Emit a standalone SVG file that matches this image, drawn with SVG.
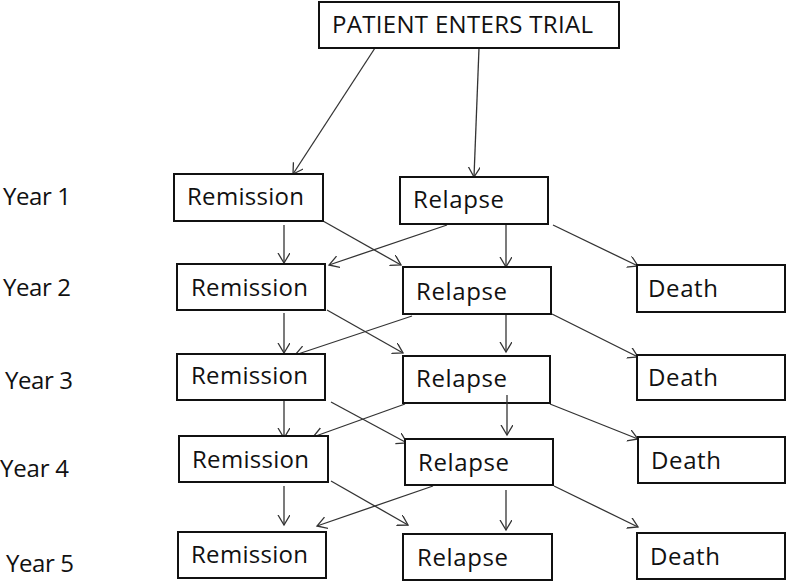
<svg xmlns="http://www.w3.org/2000/svg" width="787" height="582" viewBox="0 0 787 582">
<style>
.box{fill:#fff;stroke:#111;stroke-width:2}
.t{font-family:"Open Sans","Liberation Sans",sans-serif;font-size:24px;fill:#111}
.c line{stroke:#333;stroke-width:1.3;marker-end:url(#ah)}
</style>
<defs>
<marker id="ah" markerUnits="userSpaceOnUse" markerWidth="12" markerHeight="14" refX="10" refY="6" orient="auto">
<path d="M0,0 L10,6 L0,12" fill="none" stroke="#333" stroke-width="1.3"/>
</marker>
</defs>
<rect width="787" height="582" fill="#fff"/>
<g id="years">
<text class="t" x="3" y="205" textLength="68">Year 1</text>
<text class="t" x="3" y="296" textLength="68">Year 2</text>
<text class="t" x="5" y="389" textLength="68">Year 3</text>
<text class="t" x="0" y="477" textLength="69">Year 4</text>
<text class="t" x="6" y="572" textLength="68">Year 5</text>
</g>
<g class="c" id="connectors">
<line x1="375" y1="48" x2="293" y2="174"/>
<line x1="479" y1="48" x2="474" y2="177"/>
<line x1="284" y1="225" x2="284" y2="263"/>
<line x1="323" y1="221" x2="401" y2="265"/>
<line x1="447" y1="225" x2="329" y2="265"/>
<line x1="506" y1="224" x2="506" y2="267"/>
<line x1="553" y1="225" x2="638" y2="266"/>
<line x1="284" y1="313" x2="284" y2="353"/>
<line x1="327" y1="310" x2="403" y2="353"/>
<line x1="412" y1="316" x2="295" y2="355"/>
<line x1="506" y1="314" x2="506" y2="352"/>
<line x1="552" y1="314" x2="638" y2="357"/>
<line x1="284" y1="400" x2="284" y2="438"/>
<line x1="331" y1="402" x2="407" y2="443"/>
<line x1="405" y1="404" x2="313" y2="437"/>
<line x1="550" y1="404" x2="638" y2="439"/>
<line x1="284" y1="486" x2="284" y2="525"/>
<line x1="331" y1="481" x2="408" y2="525"/>
<line x1="433" y1="486" x2="317" y2="526"/>
<line x1="506" y1="490" x2="506" y2="530"/>
<line x1="554" y1="486" x2="638" y2="527"/>
</g>
<g id="start"><rect class="box" x="319" y="2" width="300" height="46"/><text class="t" x="332" y="33" font-size="23" textLength="261">PATIENT ENTERS TRIAL</text></g>
<g id="rem1"><rect class="box" x="174" y="174" width="149" height="47"/><text class="t" x="187" y="205" textLength="117">Remission</text></g>
<g id="rel1"><rect class="box" x="400" y="177" width="148" height="47"/><text class="t" x="413" y="208" textLength="91">Relapse</text></g>
<g id="rem2"><rect class="box" x="177" y="264" width="148" height="46"/><text class="t" x="191" y="296" textLength="117">Remission</text></g>
<g id="rel2"><rect class="box" x="403" y="267" width="148" height="47"/><text class="t" x="416" y="300" textLength="91">Relapse</text></g>
<g id="death2"><rect class="box" x="637" y="265" width="148" height="47"/><text class="t" x="648" y="297" textLength="70">Death</text></g>
<g id="rem3"><rect class="box" x="177" y="354" width="148" height="46"/><text class="t" x="191" y="384" textLength="117">Remission</text></g>
<g id="rel3"><rect class="box" x="403" y="356" width="147" height="47"/><text class="t" x="416" y="387" textLength="91">Relapse</text></g>
<g id="death3"><rect class="box" x="637" y="355" width="148" height="45"/><text class="t" x="648" y="386" textLength="70">Death</text></g>
<g id="rem4"><rect class="box" x="179" y="436" width="149" height="46"/><text class="t" x="192" y="468" textLength="117">Remission</text></g>
<g id="rel4"><rect class="box" x="405" y="439" width="148" height="46"/><text class="t" x="418" y="471" textLength="91">Relapse</text></g>
<g id="death4"><rect class="box" x="638" y="437" width="147" height="46"/><text class="t" x="651" y="469" textLength="70">Death</text></g>
<g id="rem5"><rect class="box" x="178" y="532" width="148" height="46"/><text class="t" x="191" y="563" textLength="117">Remission</text></g>
<g id="rel5"><rect class="box" x="403" y="534" width="149" height="46"/><text class="t" x="417" y="566" textLength="91">Relapse</text></g>
<g id="death5"><rect class="box" x="637" y="533" width="148" height="46"/><text class="t" x="650" y="565" textLength="70">Death</text></g>
<g class="c" id="connectors-over">
<line x1="507" y1="395" x2="507" y2="435"/>
</g>
</svg>
